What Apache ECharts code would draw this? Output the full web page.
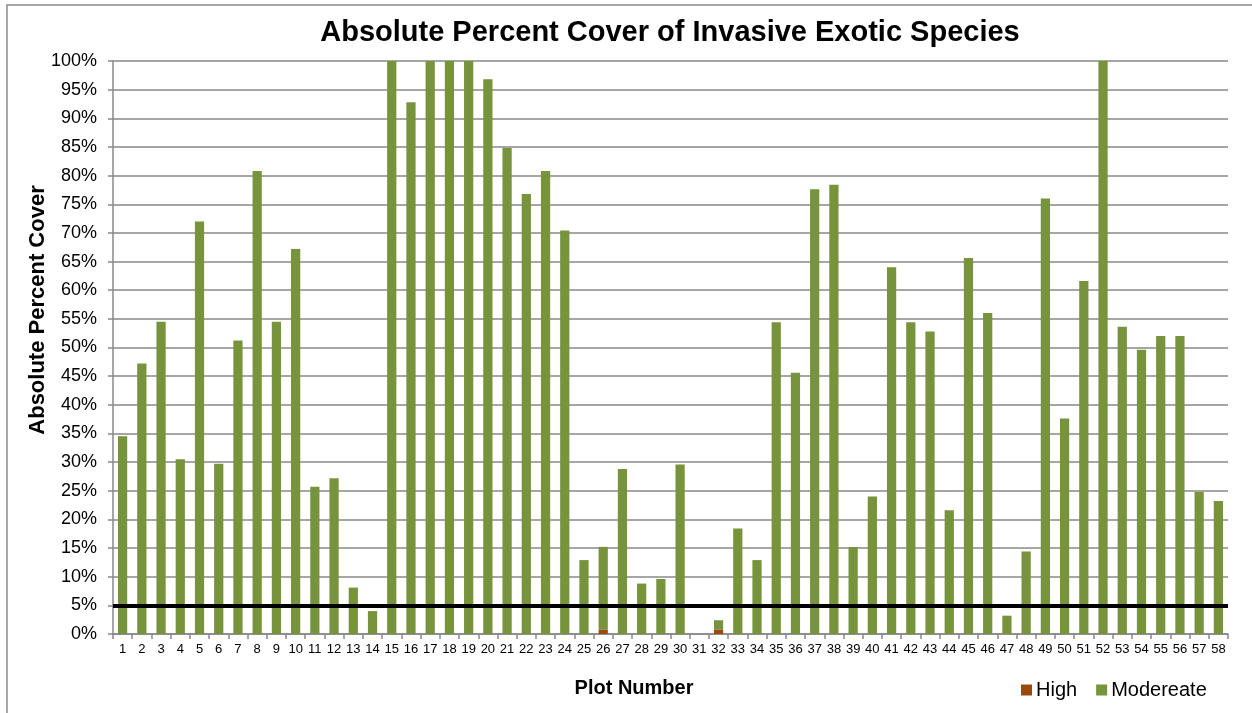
<!DOCTYPE html>
<html>
<head>
<meta charset="utf-8">
<title>Absolute Percent Cover of Invasive Exotic Species</title>
<script src="https://cdn.jsdelivr.net/npm/echarts@6/dist/echarts.min.js"></script>
<style>
  html, body { margin: 0; padding: 0; background: #ffffff; }
  #chart { width: 1252px; height: 713px; }
</style>
</head>
<body>
<div id="chart"></div>
<script>
// Plot numbers 1..58
const plots = ['1','2','3','4','5','6','7','8','9','10','11','12','13','14','15','16','17','18','19','20',
  '21','22','23','24','25','26','27','28','29','30','31','32','33','34','35','36','37','38','39','40',
  '41','42','43','44','45','46','47','48','49','50','51','52','53','54','55','56','57','58'];

// Percent cover of high-invasiveness exotics per plot
const highCover = [0,0,0,0,0,0,0,0,0,0,0,0,0,0,0,0,0,0,0,0,
  0,0,0,0,0,0.8,0,0,0,0,0,0.8,0,0,0,0,0,0,0,0,
  0,0,0,0,0,0,0,0,0,0,0,0,0,0,0,0,0,0];

// Percent cover of moderate-invasiveness exotics per plot
const moderateCover = [34.5,47.2,54.5,30.5,72.0,29.7,51.2,80.8,54.5,67.2,25.7,27.2,8.1,4.0,100,92.8,100,100,100,96.8,
  84.8,76.8,80.8,70.4,12.9,14.4,28.8,8.8,9.6,29.6,0,1.6,18.4,12.9,54.4,45.6,77.6,78.4,15.2,24.0,
  64.0,54.4,52.8,21.6,65.6,56.0,3.2,14.4,76.0,37.6,61.6,100,53.6,49.6,52.0,52.0,24.8,23.2];

// Reference threshold drawn across the plot
const thresholdPct = 5;

const gridColor = '#888888';
const font = 'Arial, "Liberation Sans", sans-serif';

const chart = echarts.init(document.getElementById('chart'), null, { renderer: 'canvas' });

chart.setOption({
  backgroundColor: '#ffffff',
  animation: false,
  graphic: [
    {
      // outer chart frame
      type: 'rect',
      shape: { x: 7, y: 5, width: 1300, height: 800 },
      style: { fill: 'none', stroke: '#8c8c8c', lineWidth: 1.5 },
      silent: true
    },
    {
      // value axis title
      type: 'text',
      x: 38,
      y: 310,
      rotation: Math.PI / 2,
      style: {
        text: 'Absolute Percent Cover',
        font: 'bold 22px ' + font,
        fill: '#000000',
        align: 'center',
        verticalAlign: 'middle'
      },
      silent: true
    },
    {
      // category axis title
      type: 'text',
      x: 634,
      y: 688,
      style: {
        text: 'Plot Number',
        font: 'bold 20px ' + font,
        fill: '#000000',
        align: 'center',
        verticalAlign: 'middle'
      },
      silent: true
    }
  ],
  title: {
    text: 'Absolute Percent Cover of Invasive Exotic Species',
    left: 665,
    textAlign: 'center',
    top: 13,
    textStyle: { fontFamily: font, fontSize: 29, fontWeight: 'bold', color: '#000000' }
  },
  legend: {
    data: ['High', 'Modereate'],
    left: 1016,
    top: 675,
    itemWidth: 11,
    itemHeight: 11,
    itemGap: 19,
    icon: 'rect',
    textStyle: { fontFamily: font, fontSize: 20, color: '#000000', padding: [0, 0, 0, -1] }
  },
  grid: { left: 113, right: 24, top: 61, bottom: 79, containLabel: false },
  xAxis: {
    type: 'category',
    data: plots,
    axisLine: { lineStyle: { color: gridColor, width: 1.5 } },
    axisTick: { show: true, lineStyle: { color: gridColor, width: 1.5 }, length: 5 },
    axisLabel: { fontFamily: font, fontSize: 13, color: '#000000', interval: 0, margin: 9 }
  },
  yAxis: {
    type: 'value',
    min: 0,
    max: 100,
    interval: 5,
    axisLine: { show: true, lineStyle: { color: gridColor, width: 1.5 } },
    axisTick: { show: true, lineStyle: { color: gridColor, width: 1.5 }, length: 5 },
    axisLabel: { fontFamily: font, fontSize: 18, color: '#000000', margin: 16, formatter: '{value}%' },
    splitLine: { show: true, lineStyle: { color: gridColor, width: 1.5 } }
  },
  series: [
    {
      name: 'High',
      type: 'bar',
      stack: 'cover',
      data: highCover,
      barWidth: '48%',
      itemStyle: { color: '#9c4a0c' }
    },
    {
      name: 'Modereate',
      type: 'bar',
      stack: 'cover',
      data: moderateCover,
      barWidth: '48%',
      itemStyle: { color: '#77933c' },
      markLine: {
        silent: true,
        symbol: ['none', 'none'],
        label: { show: false },
        lineStyle: { color: '#000000', width: 4, type: 'solid' },
        data: [{ yAxis: thresholdPct }]
      }
    }
  ]
});
</script>
</body>
</html>
